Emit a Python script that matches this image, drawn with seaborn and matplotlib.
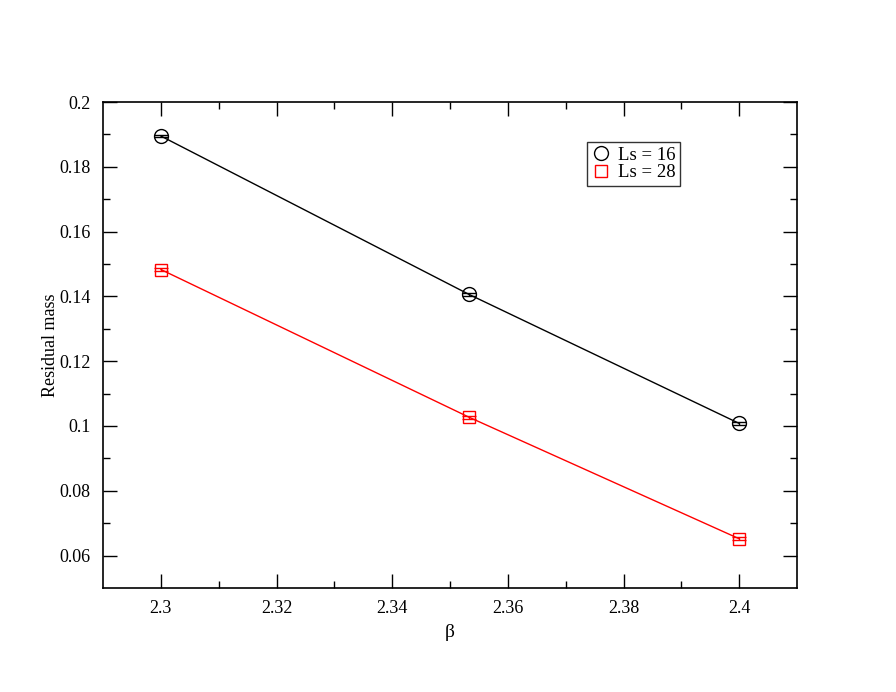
import pandas as pd
import numpy as np
import matplotlib
matplotlib.use('Agg')
import matplotlib.pyplot as plt
import seaborn as sns

# Data
beta = [2.3, 2.3533, 2.4]
mass_ls16 = [0.1895, 0.1406, 0.1008]
mass_ls28 = [0.1483, 0.1027, 0.0652]
err_ls16 = [0.0004, 0.0004, 0.0004]
err_ls28 = [0.0004, 0.0004, 0.0004]
series_labels = ['Ls = 16', 'Ls = 28']

sns.set_style('ticks')
plt.rcParams['font.family'] = ['Liberation Serif', 'DejaVu Serif']
for key in ['axes.edgecolor', 'axes.labelcolor', 'xtick.color', 'ytick.color', 'text.color']:
    plt.rcParams[key] = 'black'

df = pd.DataFrame({
    'beta': beta * 2,
    'mass': mass_ls16 + mass_ls28,
    'err': err_ls16 + err_ls28,
    'series': [series_labels[0]] * 3 + [series_labels[1]] * 3,
})

fig = plt.figure(figsize=(8.96, 6.92), dpi=100)
ax = fig.add_axes([0.115, 0.1503, 0.7745, 0.7023])

palette = {series_labels[0]: 'black', series_labels[1]: 'red'}
markers = {series_labels[0]: 'o', series_labels[1]: 's'}
sizes = {series_labels[0]: 10, series_labels[1]: 8.5}

for name in series_labels:
    sub = df[df['series'] == name]
    sns.lineplot(data=sub, x='beta', y='mass', ax=ax, color=palette[name],
                 marker=markers[name], markersize=sizes[name],
                 markerfacecolor='none', markeredgecolor=palette[name],
                 markeredgewidth=1.0, linewidth=1.0, label=name)
    ax.errorbar(sub['beta'], sub['mass'], yerr=sub['err'], fmt='none',
                ecolor=palette[name], elinewidth=1.0, capsize=5, capthick=1.0)

ax.set_xlim(2.29, 2.41)
ax.set_ylim(0.05, 0.2)
ax.set_xticks([2.3, 2.32, 2.34, 2.36, 2.38, 2.4])
ax.set_xticklabels(['2.3', '2.32', '2.34', '2.36', '2.38', '2.4'])
ax.set_xticks(np.arange(2.31, 2.40, 0.02), minor=True)
ax.set_yticks([0.06, 0.08, 0.1, 0.12, 0.14, 0.16, 0.18, 0.2])
ax.set_yticklabels(['0.06', '0.08', '0.1', '0.12', '0.14', '0.16', '0.18', '0.2'])
ax.set_yticks(np.arange(0.07, 0.2, 0.02), minor=True)
ax.tick_params(which='both', direction='in', top=True, right=True,
               labelsize=13, width=1.0, colors='black')
ax.tick_params(which='major', length=10, pad=9)
ax.tick_params(which='minor', length=5)
for sp in ax.spines.values():
    sp.set_linewidth(1.2)
    sp.set_color('black')

ax.set_xlabel('β', fontsize=14, labelpad=5)
ax.set_ylabel('Residual mass', fontsize=13, labelpad=0)

leg = ax.legend(loc='upper left', bbox_to_anchor=(0.697, 0.918), fontsize=13.5,
                frameon=True, fancybox=False, handlelength=1.0,
                handletextpad=0.4, borderpad=0.25, labelspacing=0.02,
                borderaxespad=0)
leg.get_frame().set_edgecolor('black')
leg.get_frame().set_linewidth(1.0)
for h in leg.get_lines():
    h.set_linestyle('none')

fig.savefig('out.png', dpi=100)
